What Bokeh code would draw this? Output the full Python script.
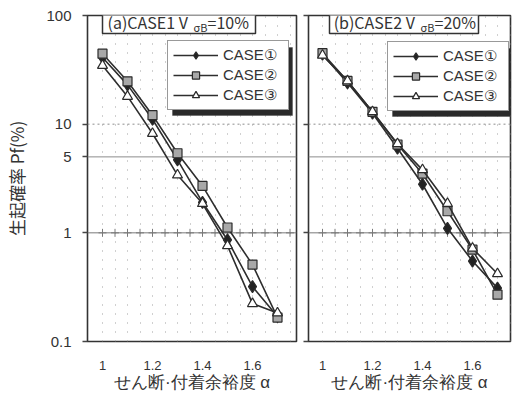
from bokeh.plotting import figure
from bokeh.layouts import row
from bokeh.models import (Range1d, FixedTicker, Legend, LegendItem, Label,
                          BoxAnnotation, Span, CustomJSTickFormatter)
from bokeh.embed import file_html
from bokeh.resources import INLINE

# ---------------- data ----------------
alpha = [1.0, 1.1, 1.2, 1.3, 1.4, 1.5, 1.6, 1.7]
# (a) CASE1  V_sigmaB = 10%
a_case1 = [41.0, 23.0, 11.1, 4.7, 1.91, 0.86, 0.32, 0.17]
a_case2 = [44.5, 24.8, 12.1, 5.4, 2.7, 1.12, 0.51, 0.166]
a_case3 = [34.7, 18.0, 8.2, 3.4, 1.86, 0.76, 0.223, 0.183]
# (b) CASE2  V_sigmaB = 20%
b_case1 = [44.0, 24.0, 12.6, 6.0, 2.8, 1.1, 0.55, 0.31]
b_case2 = [45.0, 25.0, 13.0, 6.5, 3.5, 1.58, 0.70, 0.27]
b_case3 = [43.0, 25.0, 13.0, 6.6, 3.8, 1.86, 0.72, 0.42]

series_names = ["CASE\u2460", "CASE\u2461", "CASE\u2462"]
y_ticks = [0.1, 1, 5, 10, 100]
y_ticks_right = [0.1, 1, 10, 100]
x_ticks = [1.0, 1.2, 1.4, 1.6]
grid_x = [1.0, 1.05, 1.1, 1.15, 1.2, 1.25, 1.3, 1.35, 1.4, 1.45, 1.5,
          1.55, 1.6, 1.65, 1.7, 1.75]
x_label = "せん断·付着余裕度 α"
y_label = "生起確率 Pf(%)"

TXT = "#333333"
FONT = "Liberation Sans"
JP = "Noto Sans CJK JP"


def make_panel(ys, tag, v_txt, width, min_left, min_right, x_start, x_end,
               cross_x, left_axis, legend_xy, title_box, title_pos):
    p = figure(width=width, height=398, y_axis_type="log",
               x_range=Range1d(x_start, x_end), y_range=Range1d(0.1, 100),
               output_backend="svg", toolbar_location=None,
               min_border_left=min_left, min_border_right=min_right,
               min_border_top=15, min_border_bottom=57)
    p.outline_line_color = "#333333"
    p.outline_line_width = 1.6
    p.background_fill_color = "white"
    p.border_fill_color = "white"

    # dotted grid
    p.xgrid.ticker = FixedTicker(ticks=grid_x)
    p.xgrid.grid_line_color = "#a0a0a0"
    p.xgrid.grid_line_dash = "1 8"
    p.xgrid.grid_line_width = 1
    p.ygrid.grid_line_color = None

    p.add_layout(Span(location=10, dimension="width", line_color="#8c8c8c",
                      line_width=1, line_dash="2 3", level="underlay"))
    p.add_layout(Span(location=5, dimension="width", line_color="#8c8c8c",
                      line_width=1, level="underlay"))
    p.add_layout(Span(location=1, dimension="width", line_color="#7a7a7a",
                      line_width=1, level="underlay"))
    p.scatter(cross_x, [1] * len(cross_x), marker="cross", size=8,
              line_color="#7a7a7a", line_width=1)

    lines, marks = [], []
    specs = [("diamond", 12, "#222222"), ("square", 9, "#a8a8a8"),
             ("triangle", 10, "white")]
    for yv, (mk, sz, fc) in zip(ys, specs):
        l = p.line(alpha, yv, line_color="#2e2e2e", line_width=1.6)
        m = p.scatter(alpha, yv, marker=mk, size=sz, fill_color=fc,
                      line_color="#2a2a2a", line_width=1.2)
        lines.append(l)
        marks.append(m)

    # axes
    xa = p.xaxis[0]
    xa.ticker = FixedTicker(ticks=x_ticks)
    xa.formatter = CustomJSTickFormatter(
        code="return tick.toFixed(1).replace(/\\.0$/, '')")
    xa.axis_line_color = None
    xa.major_tick_line_color = None
    xa.minor_tick_line_color = None
    xa.major_label_standoff = 13
    xa.major_label_text_font = FONT
    xa.major_label_text_font_size = "13px"
    xa.major_label_text_color = TXT
    xa.axis_label = x_label
    xa.axis_label_text_font = FONT
    xa.axis_label_text_font_size = "17px"
    xa.axis_label_text_font_style = "normal"
    xa.axis_label_text_color = TXT
    xa.axis_label_standoff = 0

    ya = p.yaxis[0]
    ya.axis_line_color = None
    ya.minor_tick_line_color = None
    ya.major_tick_out = 5
    ya.major_tick_in = 0
    ya.major_tick_line_color = "#444444"
    ya.major_tick_line_width = 1.5
    if left_axis:
        ya.ticker = FixedTicker(ticks=y_ticks)
        ya.formatter = CustomJSTickFormatter(
            code="return tick >= 1 ? tick.toFixed(0) : String(tick)")
        ya.major_label_text_font = FONT
        ya.major_label_text_font_size = "15px"
        ya.major_label_text_color = TXT
        ya.major_label_standoff = 11
        ya.axis_label = y_label
        ya.axis_label_text_font = JP
        ya.axis_label_text_font_size = "17px"
        ya.axis_label_text_font_style = "normal"
        ya.axis_label_text_color = TXT
        ya.axis_label_standoff = 14
    else:
        ya.ticker = FixedTicker(ticks=y_ticks_right)
        ya.formatter = CustomJSTickFormatter(code="return ''")
        ya.major_label_standoff = 0

    # title box
    bl, br = title_box
    p.add_layout(BoxAnnotation(left=bl, right=br, bottom=308, top=334,
                               left_units="screen", right_units="screen",
                               bottom_units="screen", top_units="screen",
                               fill_color="white", fill_alpha=1,
                               line_color="#333333", line_width=1.5,
                               line_alpha=1))
    vx, sx, ex = title_pos
    p.add_layout(Label(x=vx, y=320, x_units="screen", y_units="screen",
                       text=tag + "  V", text_align="right",
                       text_baseline="middle", text_font=JP,
                       text_font_size="16px", text_color=TXT))
    p.add_layout(Label(x=sx, y=315, x_units="screen", y_units="screen",
                       text="σB", text_align="left", text_baseline="middle",
                       text_font=JP, text_font_size="11px",
                       text_color=TXT))
    p.add_layout(Label(x=ex, y=320, x_units="screen", y_units="screen",
                       text=v_txt, text_align="left", text_baseline="middle",
                       text_font=JP, text_font_size="16px",
                       text_color=TXT))

    # legend with shadow
    lx, ly = legend_xy
    lw, lh = 120, 68
    p.add_layout(BoxAnnotation(left=lx + 5, right=lx + lw + 5,
                               bottom=ly - 5, top=ly + lh - 5,
                               left_units="screen", right_units="screen",
                               bottom_units="screen", top_units="screen",
                               fill_color="#2a2a2a", fill_alpha=1,
                               line_color="#2a2a2a", line_width=1))
    leg = Legend(items=[LegendItem(label=n, renderers=[l, m])
                        for n, l, m in zip(series_names, lines, marks)],
                 location=(lx, ly), orientation="vertical", padding=5,
                 spacing=2, glyph_width=45, glyph_height=18, label_height=18,
                 label_width=60, label_standoff=5, label_text_font=FONT,
                 label_text_font_size="15px", label_text_color=TXT,
                 border_line_color="#333333", border_line_width=1,
                 background_fill_color="white", background_fill_alpha=1,
                 margin=0)
    p.add_layout(leg, "center")
    return p


cross_a = [1.0, 1.05, 1.1, 1.15, 1.2, 1.25, 1.3, 1.35, 1.4, 1.45, 1.5,
           1.55, 1.6, 1.65, 1.7, 1.75]
cross_b = [1.0, 1.05, 1.1, 1.15, 1.2, 1.25, 1.3, 1.35, 1.4, 1.45, 1.5,
           1.55, 1.6, 1.65, 1.7]

p1 = make_panel([a_case1, a_case2, a_case3], "(a)CASE1", "=10%",
                width=301, min_left=87, min_right=5, x_start=0.94,
                x_end=1.776, cross_x=cross_a, left_axis=True,
                legend_xy=(80, 231), title_box=(15, 168),
                title_pos=(104, 106, 120))
p2 = make_panel([b_case1, b_case2, b_case3], "(b)CASE2", "=20%",
                width=212, min_left=7, min_right=3, x_start=0.944,
                x_end=1.752, cross_x=cross_b, left_axis=False,
                legend_xy=(79, 230), title_box=(21, 170),
                title_pos=(110, 112, 126))

layout = row(p1, p2)
open("out.html", "w").write(file_html(layout, INLINE))
